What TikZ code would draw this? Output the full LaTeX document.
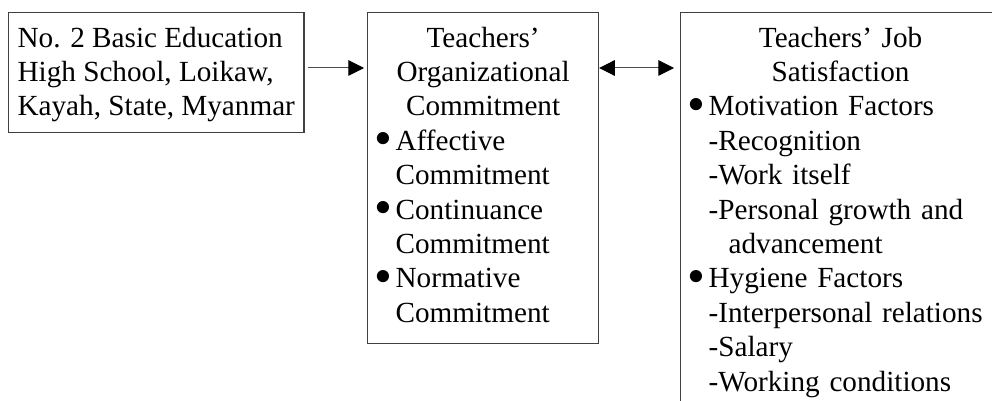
\documentclass[tikz,border=0pt]{standalone}
\usepackage{fontspec}
\usepackage{graphicx}
\setmainfont{Liberation Serif}
\usetikzlibrary{arrows.meta}
\setlength{\parindent}{0pt}
\newcommand{\bul}{\makebox[9pt][l]{\hspace*{-1.5pt}\raisebox{-2.6pt}{\scalebox{1.75}{\textbullet}}}}
\newcommand{\itm}{\par\hangindent=9pt\hangafter=1\noindent\bul}

\begin{document}
\begin{tikzpicture}[x = 0.5pt, y = -0.5pt,
    box/.style = {draw = black!75, line width = 0.6pt, anchor = north west,
      inner xsep = 5pt, inner ysep = 5.25pt,
      font = \fontsize{14.6pt}{17.2pt}\selectfont},
    link/.style = {draw = black!70, line width = 0.5pt}]
  \clip (0, 0) rectangle (992, 401);
  \node[box, align = left, inner xsep = 4.5pt] (school) at (8, 12)
    {\strut No. 2 Basic Education\\High School, Loikaw,\\Kayah, State, Myanmar};
  \node[box, text width = 105.5pt] (commit) at (367, 12)
    {\centering\strut Teachers’\\Organizational\\Commitment\par
     \raggedright
     \itm Affective\newline Commitment
     \itm Continuance\newline Commitment
     \itm Normative\newline Commitment\strut\par};
  \node[box, text width = 150pt] (satis) at (680, 12)
    {\centering\strut Teachers’ Job\\Satisfaction\par
     \raggedright
     \itm Motivation Factors\newline -Recognition\newline -Work itself\newline
       -Personal growth and\newline \hspace*{10pt}advancement
     \itm Hygiene Factors\newline -Interpersonal relations\newline -Salary\newline
       -Working conditions\strut\par};
  % arrows
  \coordinate (level) at (0, 68);
  \draw[link, shorten <= 1.5pt, shorten >= 1.5pt,
    -{Triangle[length = 7.8pt, width = 7.8pt, color = black]}]
    (school.east |- level) -- (commit.west |- level);
  \draw[link, shorten >= 3pt,
    {Triangle[length = 7.8pt, width = 7.8pt, color = black]}-{Triangle[length = 7.8pt, width = 7.8pt, color = black]}]
    (commit.east |- level) -- (satis.west |- level);
\end{tikzpicture}
\end{document}
